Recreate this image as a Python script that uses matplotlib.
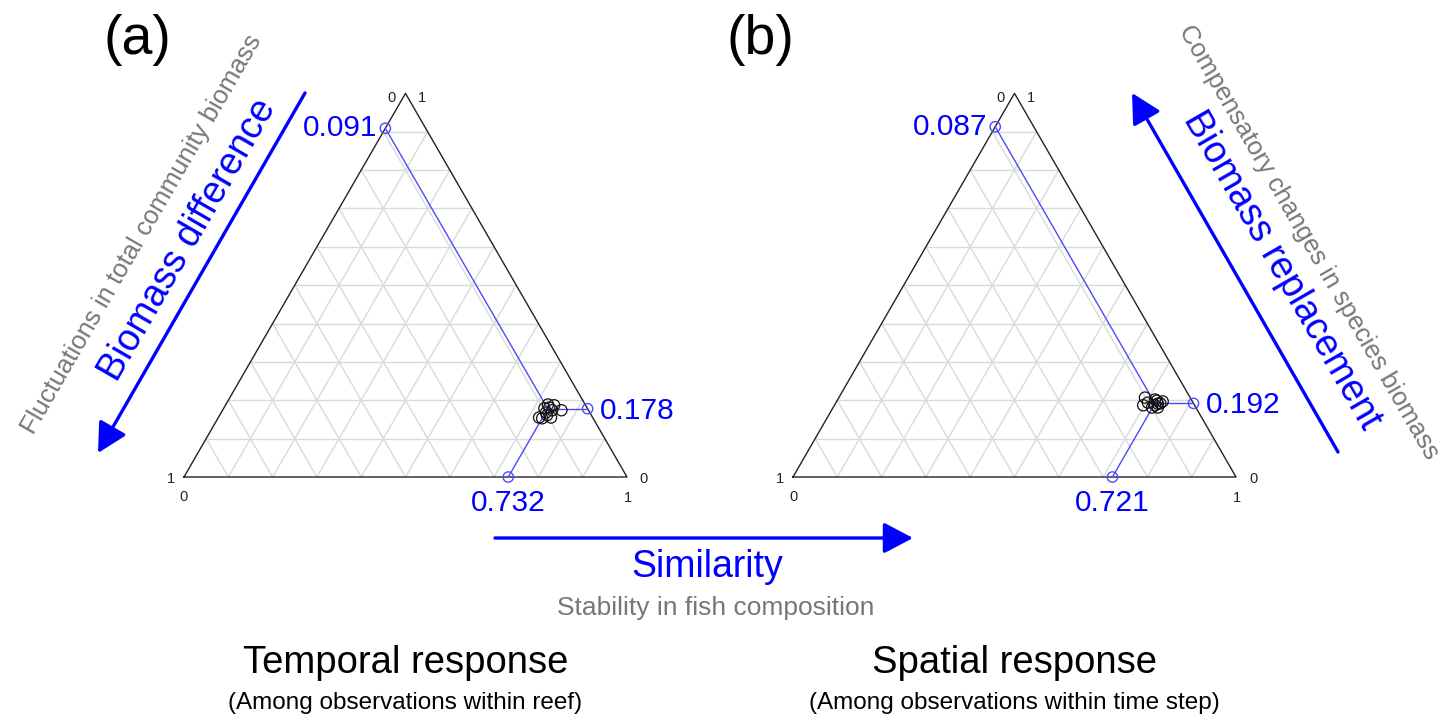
"""
Ternary plots of temporal vs spatial community response
(similarity / biomass difference / biomass replacement).
"""
import matplotlib
matplotlib.use("Agg")
import matplotlib.pyplot as plt
import numpy as np

plt.rcParams["font.family"] = ["Liberation Sans", "DejaVu Sans"]

BLUE = "#0000ff"
LINE_BLUE = "#4a4aff"
GREY = "#777777"

# --- data -------------------------------------------------------------------
# mean composition per panel: similarity, biomass difference, biomass replacement
mean_sim = [0.732, 0.721]
mean_diff = [0.091, 0.087]
mean_repl = [0.178, 0.192]

# individual observations (black open circles)
a_sim = [0.724, 0.734, 0.744, 0.765, 0.724, 0.732, 0.739, 0.751, 0.733, 0.727, 0.742]
a_diff = [0.097, 0.085, 0.082, 0.061, 0.121, 0.115, 0.100, 0.094, 0.099, 0.084, 0.071]
a_repl = [0.179, 0.181, 0.174, 0.174, 0.155, 0.153, 0.161, 0.155, 0.168, 0.189, 0.187]

b_sim = [0.691, 0.697, 0.704, 0.720, 0.722, 0.733, 0.733, 0.724, 0.716, 0.728, 0.736]
b_diff = [0.102, 0.116, 0.102, 0.099, 0.079, 0.075, 0.086, 0.089, 0.082, 0.081, 0.067]
b_repl = [0.207, 0.187, 0.194, 0.181, 0.199, 0.192, 0.181, 0.187, 0.202, 0.191, 0.197]

panel_letters = ["(a)", "(b)"]
panel_titles = ["Temporal response", "Spatial response"]
panel_subtitles = ["(Among observations within reef)",
                   "(Among observations within time step)"]

# --- layout (figure pixels) --------------------------------------------------
W, H = 1456, 721
TRI_W = 443
TRI_H = TRI_W * np.sqrt(3) / 2
BASE_Y = 477
LEFT_X = [184, 793]
LETTER_X = [137, 760]


def to_xy(x0, sim, diff, repl):
    # vertices: left = difference, right = similarity, top = replacement
    sim, diff, repl = (np.asarray(v, float) for v in (sim, diff, repl))
    x = x0 + TRI_W * sim + TRI_W / 2 * repl
    y = BASE_Y - TRI_H * repl
    return x, y


fig = plt.figure(figsize=(W / 100, H / 100), dpi=100)
ax = fig.add_axes([0, 0, 1, 1])
ax.set_xlim(0, W)
ax.set_ylim(H, 0)
ax.axis("off")

points = [(a_sim, a_diff, a_repl), (b_sim, b_diff, b_repl)]

for i, x0 in enumerate(LEFT_X):
    # grid
    for k in np.arange(1, 10) / 10:
        for p, q in [((0, 1 - k, k), (1 - k, 0, k)),      # const replacement
                     ((k, 1 - k, 0), (k, 0, 1 - k)),      # const similarity
                     ((1 - k, k, 0), (0, k, 1 - k))]:     # const difference
            xs, ys = to_xy(x0, [p[0], q[0]], [p[1], q[1]], [p[2], q[2]])
            ax.plot(xs, ys, color="#dadada", lw=1, zorder=1)
    # frame
    xs, ys = to_xy(x0, [0, 1, 0, 0], [1, 0, 0, 1], [0, 0, 1, 0])
    ax.plot(xs, ys, color="#222222", lw=1, zorder=2)

    # vertex tick labels
    lx, ly = to_xy(x0, 0, 1, 0)
    rx, ry = to_xy(x0, 1, 0, 0)
    tx, ty = to_xy(x0, 0, 0, 1)
    tk = dict(fontsize=10.5, color="#222222", ha="center", va="center")
    ax.text(lx - 13, ly + 2, "1", **tk)
    ax.text(lx, ly + 20, "0", **tk)
    ax.text(rx + 17, ry + 2, "0", **tk)
    ax.text(rx + 1, ry + 21, "1", **tk)
    ax.text(tx - 14, ty + 5, "0", **tk)
    ax.text(tx + 16, ty + 5, "1", **tk)

    # observations
    s, d, r = points[i]
    px, py = to_xy(x0, s, d, r)
    ax.scatter(px, py, s=65, facecolors="none", edgecolors="#111111",
               linewidths=0.9, zorder=4)

    # mean with projections onto the three axes
    ms, md, mr = mean_sim[i], mean_diff[i], mean_repl[i]
    mx, my = to_xy(x0, ms, md, mr)
    proj = [to_xy(x0, ms, 1 - ms, 0),          # bottom axis
            to_xy(x0, 1 - mr, 0, mr),          # right axis
            to_xy(x0, 0, md, 1 - md)]          # left axis
    for ex, ey in proj:
        ax.plot([mx, ex], [my, ey], color=LINE_BLUE, lw=1, zorder=3)
        ax.scatter([ex], [ey], s=55, facecolors="none", edgecolors=LINE_BLUE,
                   linewidths=1, zorder=5)

    lab = dict(fontsize=21.5, color=BLUE)
    ax.text(proj[0][0], proj[0][1] + 12, f"{ms:.3f}", ha="center", va="top", **lab)
    ax.text(proj[1][0] + 12, proj[1][1] + 2, f"{mr:.3f}", ha="left", va="center", **lab)
    ax.text(proj[2][0] - 8, proj[2][1], f"{md:.3f}", ha="right", va="center", **lab)

    # panel letters and titles
    cx = x0 + TRI_W / 2
    ax.text(LETTER_X[i], 40, panel_letters[i], fontsize=40, ha="center", va="center")
    ax.text(cx, 663, panel_titles[i], fontsize=27.5, ha="center", va="center")
    ax.text(cx, 703, panel_subtitles[i], fontsize=17.5, ha="center", va="center")

arrow = dict(arrowstyle="-|>,head_length=1.8,head_width=0.95", color=BLUE,
             lw=2.4, shrinkA=0, shrinkB=0)

# left: biomass difference
ax.annotate("", xy=(98, 453), xytext=(305, 93), arrowprops=arrow)
ax.text(188, 240, "Biomass difference", rotation=60, rotation_mode="anchor",
        fontsize=27, color=BLUE, ha="center", va="center")
ax.text(142, 234, "Fluctuations in total community biomass", rotation=60,
        rotation_mode="anchor", fontsize=18.5, color=GREY, ha="center", va="center")

# right: biomass replacement
ax.annotate("", xy=(1132, 93), xytext=(1338, 452), arrowprops=arrow)
ax.text(1282, 270, "Biomass replacement", rotation=-60, rotation_mode="anchor",
        fontsize=27, color=BLUE, ha="center", va="center")
ax.text(1309, 242, "Compensatory changes in species biomass", rotation=-60,
        rotation_mode="anchor", fontsize=18.5, color=GREY, ha="center", va="center")

# bottom: similarity
ax.annotate("", xy=(913, 538), xytext=(495, 538), arrowprops=arrow)
ax.text(707, 567, "Similarity", fontsize=27, color=BLUE, ha="center", va="center")
ax.text(716, 608, "Stability in fish composition", fontsize=19, color=GREY,
        ha="center", va="center")

fig.savefig("out.png", dpi=100)
